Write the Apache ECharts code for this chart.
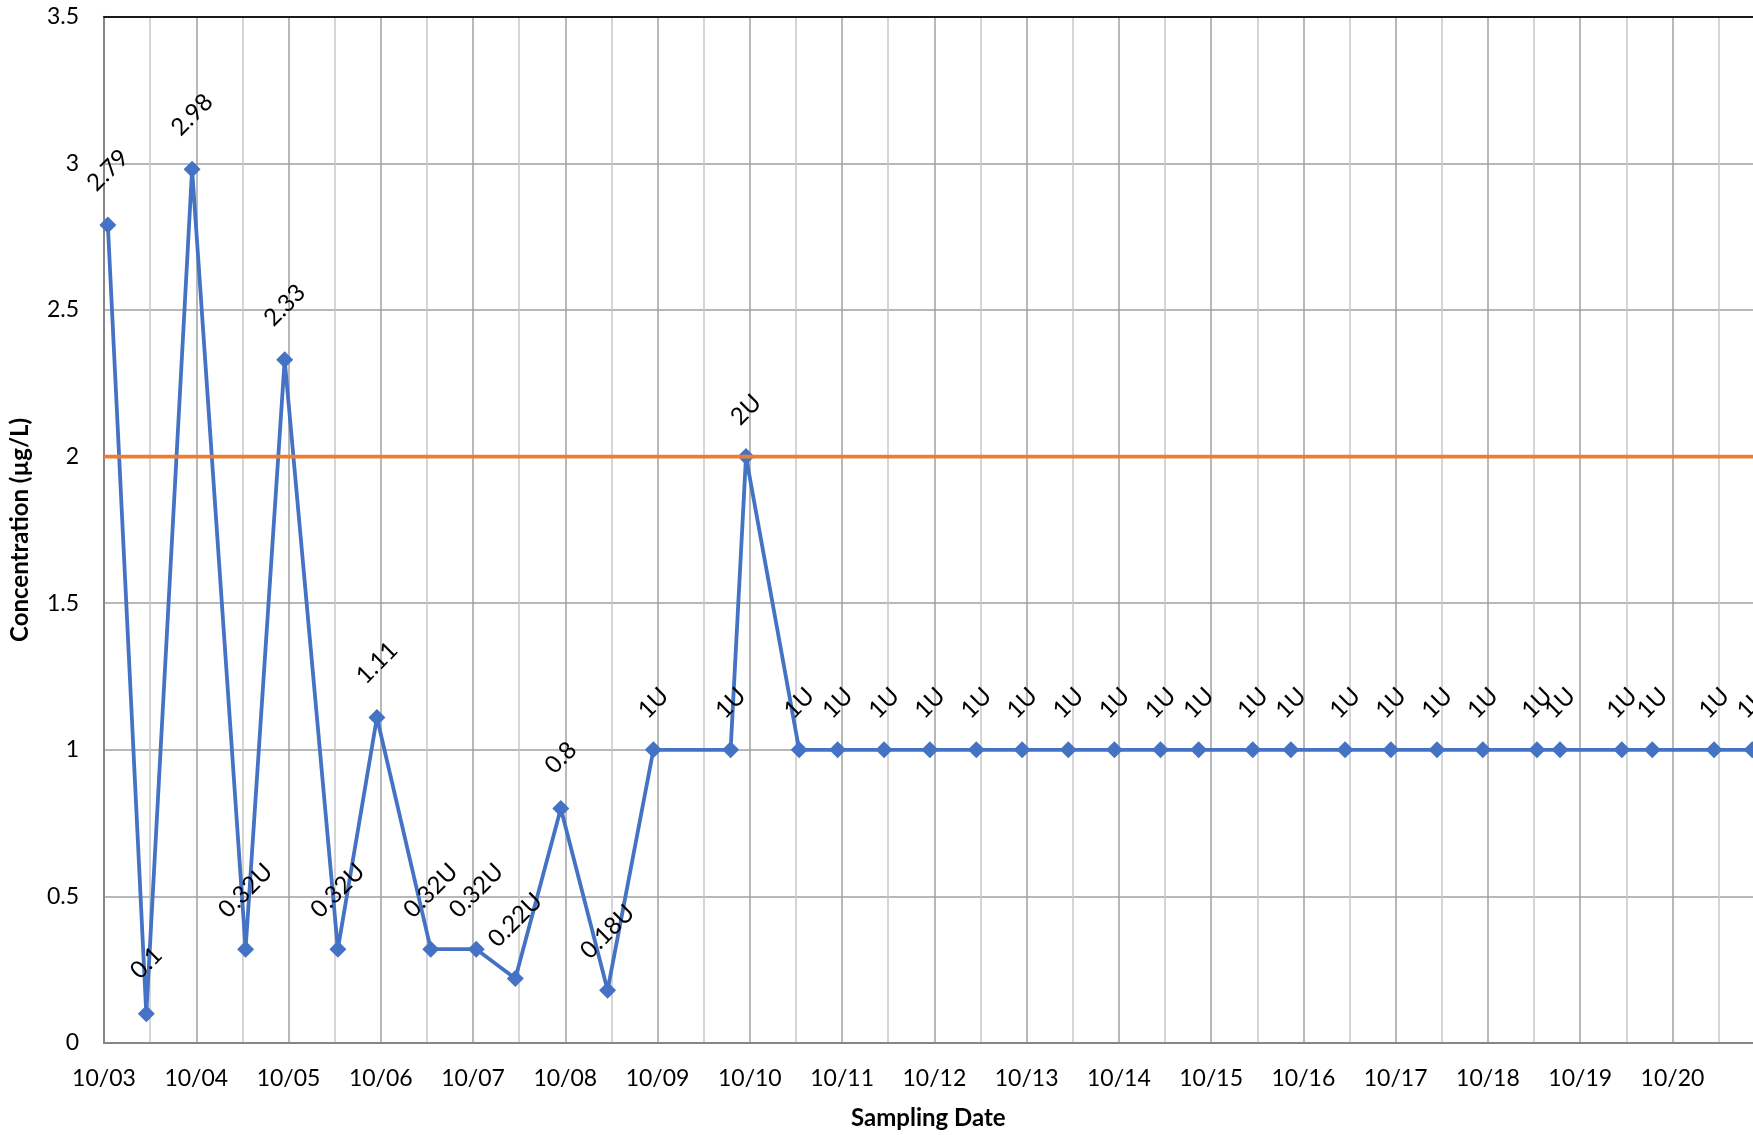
<!DOCTYPE html>
<html>
<head>
<meta charset="utf-8">
<script src="https://cdn.jsdelivr.net/npm/echarts@6/dist/echarts.min.js"></script>
<style>
  html, body { margin: 0; padding: 0; background: #fff; overflow: hidden; }
  #chart { width: 1800px; height: 1135px; }
</style>
</head>
<body>
<div id="chart"></div>
<script>
// ---- Data ----
const sampleTimes = [
  '10/03 01:00', '10/03 11:00', '10/03 22:55', '10/04 12:50', '10/04 23:00',
  '10/05 12:50', '10/05 23:00', '10/06 13:00', '10/07 00:50', '10/07 11:00',
  '10/07 22:50', '10/08 11:00', '10/08 22:55', '10/09 19:00', '10/09 23:00',
  '10/10 12:50', '10/10 22:50', '10/11 10:55', '10/11 22:50', '10/12 10:55',
  '10/12 22:50', '10/13 10:50', '10/13 22:50', '10/14 10:50', '10/14 20:45',
  '10/15 10:50', '10/15 20:45', '10/16 10:50', '10/16 22:45', '10/17 10:45',
  '10/17 22:40', '10/18 12:45', '10/18 18:45', '10/19 10:50', '10/19 18:45',
  '10/20 10:50', '10/20 20:45'
];
const concentrations = [
  2.79, 0.1, 2.98, 0.32, 2.33,
  0.32, 1.11, 0.32, 0.32, 0.22,
  0.8, 0.18, 1, 1, 2,
  1, 1, 1, 1, 1,
  1, 1, 1, 1, 1,
  1, 1, 1, 1, 1,
  1, 1, 1, 1, 1,
  1, 1
];
const qualifiers = [
  '', '', '', 'U', '',
  'U', '', 'U', 'U', 'U',
  '', 'U', 'U', 'U', 'U',
  'U', 'U', 'U', 'U', 'U',
  'U', 'U', 'U', 'U', 'U',
  'U', 'U', 'U', 'U', 'U',
  'U', 'U', 'U', 'U', 'U',
  'U', 'U'
];
const actionLevel = 2;          // µg/L reference line
const axisMonth = '10';
const xAxisDays = [3, 21];      // day-of-month range of the x axis
const yTicks = [0, 3.5, 0.5];   // min, max, step

// ---- Build ----
function toDay(s) {
  const [md, hm] = s.split(' ');
  const day = parseInt(md.split('/')[1], 10);
  const [h, m] = hm.split(':').map(Number);
  return day + h / 24 + m / 1440;
}
const labels = concentrations.map((v, i) => String(v) + qualifiers[i]);
const FONT = 'Lato, "Open Sans", "Liberation Sans", sans-serif';

const seriesData = sampleTimes.map((t, i) => {
  const d = 39 + 3.9 * labels[i].length;   // distance of label centre above the marker
  return {
    value: [toDay(t), concentrations[i]],
    label: { offset: [d * Math.SQRT1_2, -d * Math.SQRT1_2] }
  };
});

const chart = echarts.init(document.getElementById('chart'), null, { renderer: 'canvas' });
chart.setOption({
  animation: false,
  backgroundColor: '#ffffff',
  grid: { left: 98.4, right: 35.3, top: 16.8, bottom: 90, containLabel: false },
  xAxis: [{
    type: 'value',
    min: xAxisDays[0],
    max: xAxisDays[1],
    interval: 1,
    name: 'Sampling Date',
    nameLocation: 'middle',
    nameGap: 63,
    nameTextStyle: { fontFamily: FONT, fontWeight: 'bold', fontSize: 24, color: '#000', padding: [0, 12, 0, 0] },
    axisLine: { show: true, onZero: false, lineStyle: { color: '#868686', width: 2 } },
    axisTick: { show: false },
    axisLabel: {
      show: true, margin: 24, fontFamily: FONT, fontSize: 23, color: '#000',
      showMaxLabel: false,
      formatter: v => axisMonth + '/' + String(Math.round(v)).padStart(2, '0')
    },
    splitLine: { show: true, lineStyle: { color: '#a0a0a0', width: 1.5 } },
    minorTick: { show: false, splitNumber: 2 },
    minorSplitLine: { show: true, lineStyle: { color: '#c8c8c8', width: 1.5 } }
  }, {
    type: 'value',
    position: 'top',
    min: xAxisDays[0],
    max: xAxisDays[1],
    axisLine: { show: true, onZero: false, lineStyle: { color: '#1a1a1a', width: 2 } },
    axisTick: { show: false },
    axisLabel: { show: false },
    splitLine: { show: false }
  }],
  yAxis: {
    type: 'value',
    min: yTicks[0],
    max: yTicks[1],
    interval: yTicks[2],
    name: 'Concentration (µg/L)',
    nameLocation: 'middle',
    nameRotate: 90,
    nameGap: 72,
    nameTextStyle: { fontFamily: FONT, fontWeight: 'bold', fontSize: 24, color: '#000' },
    axisLine: { show: true, lineStyle: { color: '#868686', width: 2 } },
    axisTick: { show: false },
    axisLabel: { margin: 25, fontFamily: FONT, fontSize: 23, color: '#000' },
    splitLine: { show: true, lineStyle: { color: '#a0a0a0', width: 1.5 } }
  },
  series: [{
    name: 'Concentration',
    type: 'line',
    xAxisIndex: 0,
    data: seriesData,
    symbol: 'diamond',
    symbolSize: 17,
    showAllSymbol: true,
    itemStyle: { color: '#4472C4' },
    lineStyle: { color: '#4472C4', width: 3.8 },
    label: {
      show: true,
      position: 'inside',
      rotate: 45,
      align: 'center',
      verticalAlign: 'middle',
      fontFamily: FONT,
      fontSize: 24,
      color: '#000',
      formatter: p => labels[p.dataIndex]
    },
    z: 3
  }, {
    name: 'Action Level',
    type: 'line',
    xAxisIndex: 0,
    data: [[xAxisDays[0], actionLevel], [xAxisDays[1], actionLevel]],
    symbol: 'none',
    lineStyle: { color: '#ED7D31', width: 3.8 },
    z: 4
  }]
});
</script>
</body>
</html>
